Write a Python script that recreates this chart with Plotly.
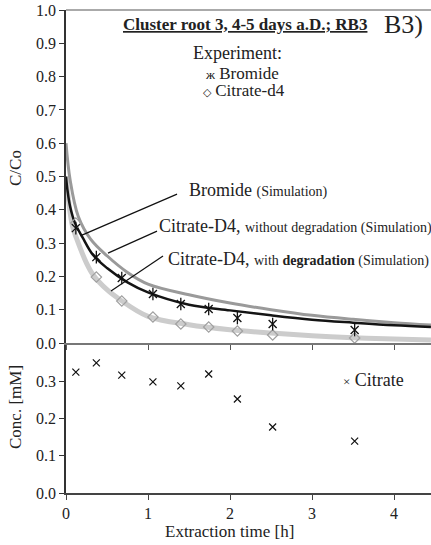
import plotly.graph_objects as go

# ---------------- data ----------------
t_exp = [0.12, 0.37, 0.68, 1.06, 1.40, 1.74, 2.09, 2.52, 3.52]
bromide_exp = [0.345, 0.258, 0.195, 0.147, 0.117, 0.102, 0.075, 0.057, 0.039]
citrate_d4_exp = [0.36, 0.198, 0.126, 0.078, 0.057, 0.048, 0.036, 0.024, 0.015]
citrate_conc = [0.324, 0.349, 0.316, 0.298, 0.287, 0.319, 0.252, 0.177, 0.139]

t_sim_br = [0, 0.05, 0.15, 0.3, 0.5, 0.75, 1.0, 1.5, 2.0, 2.5, 3.0, 3.5, 4.0, 4.45]
bromide_sim = [0.60, 0.49, 0.38, 0.312, 0.262, 0.212, 0.177, 0.145, 0.12, 0.10, 0.083, 0.071, 0.061, 0.054]

t_sim_nd = [0, 0.02, 0.05, 0.11, 0.2, 0.33, 0.5, 0.75, 1.0, 1.5, 2.0, 2.5, 3.0, 3.5, 4.0, 4.45]
citrate_nodeg_sim = [0.50, 0.455, 0.41, 0.36, 0.318, 0.264, 0.225, 0.182, 0.152, 0.115, 0.098, 0.083, 0.070, 0.061, 0.053, 0.048]

t_sim_dg = [0, 0.03, 0.08, 0.15, 0.25, 0.33, 0.5, 0.66, 1.0, 1.5, 2.0, 2.5, 3.0, 3.5, 4.0, 4.45]
citrate_deg_sim = [0.50, 0.43, 0.35, 0.30, 0.24, 0.205, 0.16, 0.13, 0.08, 0.055, 0.04, 0.03, 0.022, 0.016, 0.012, 0.009]

x_ticks = [0, 1, 2, 3, 4]
top_y_ticks = [0.0, 0.1, 0.2, 0.3, 0.4, 0.5, 0.6, 0.7, 0.8, 0.9, 1.0]
bot_y_ticks = [0.0, 0.1, 0.2, 0.3]

FONT = "Liberation Serif, Times New Roman, serif"
TXT = "#222222"

fig = go.Figure()

# simulation curves (top panel)
fig.add_trace(go.Scatter(x=t_sim_dg, y=citrate_deg_sim, mode="lines", xaxis="x2", yaxis="y2",
                         line=dict(color="#cccccc", width=5, shape="spline", smoothing=1.0)))
fig.add_trace(go.Scatter(x=t_sim_br, y=bromide_sim, mode="lines", xaxis="x2", yaxis="y2",
                         line=dict(color="#9a9a9a", width=3, shape="spline", smoothing=1.0)))
fig.add_trace(go.Scatter(x=t_sim_nd, y=citrate_nodeg_sim, mode="lines", xaxis="x2", yaxis="y2",
                         line=dict(color="#141414", width=2.5, shape="spline", smoothing=1.0)))

# experimental points
fig.add_trace(go.Scatter(x=t_exp, y=citrate_d4_exp, mode="markers", xaxis="x2", yaxis="y2",
                         marker=dict(symbol="diamond-open", size=8, color="#a0a0a0", line=dict(width=1.2))))
fig.add_trace(go.Scatter(x=t_exp, y=bromide_exp, mode="markers", xaxis="x2", yaxis="y2",
                         marker=dict(symbol="x-thin-open", size=8, color="#111111", line=dict(width=1.3))))
fig.add_trace(go.Scatter(x=t_exp, y=bromide_exp, mode="markers", xaxis="x2", yaxis="y2",
                         marker=dict(symbol="line-ns-open", size=9, color="#111111", line=dict(width=1.3))))

# bottom panel citrate
fig.add_trace(go.Scatter(x=t_exp, y=citrate_conc, mode="markers", xaxis="x", yaxis="y",
                         marker=dict(symbol="x-thin-open", size=7, color="#111111", line=dict(width=1.2))))

SPLIT = 150 / 483

axis_common = dict(showgrid=False, zeroline=False, ticks="outside", ticklen=5,
                   tickfont=dict(family=FONT, size=16, color=TXT))

fig.update_layout(
    width=431, height=545,
    margin=dict(l=66, r=0, t=10, b=52),
    paper_bgcolor="white", plot_bgcolor="white",
    showlegend=False,
    font=dict(family=FONT, color=TXT),
    xaxis=dict(domain=[0, 1], range=[0, 4.451], anchor="y", tickvals=x_ticks,
               showline=True, linecolor="#444444", linewidth=1.5, tickcolor="#444444", **axis_common),
    yaxis=dict(domain=[0, SPLIT], range=[0, 0.4021], anchor="x", tickvals=bot_y_ticks, tickformat=".1f",
               showline=True, linecolor="#333333", linewidth=1.8, tickcolor="#333333", **axis_common),
    xaxis2=dict(domain=[0, 1], range=[0, 4.451], anchor="y2", matches="x", tickvals=x_ticks,
                showticklabels=False, showline=True, linecolor="#777777", linewidth=2,
                tickcolor="#555555", **axis_common),
    yaxis2=dict(domain=[SPLIT, 1], range=[0, 1.0], anchor="x2", tickvals=top_y_ticks, tickformat=".1f",
                showline=True, linecolor="#333333", linewidth=1.8, tickcolor="#333333", **axis_common),
)

# top frame line
fig.add_shape(type="line", xref="paper", yref="paper", x0=0, x1=1, y0=1, y1=1,
              line=dict(color="#aaaaaa", width=2))

# leader lines
leaders = [
    (0.195, 0.324, 1.354, 0.447),
    (0.512, 0.270, 1.110, 0.336),
    (0.549, 0.156, 1.183, 0.261),
]
for x0, y0, x1, y1 in leaders:
    fig.add_shape(type="line", xref="x2", yref="y2", x0=x0, y0=y0, x1=x1, y1=y1,
                  line=dict(color="#111111", width=1.2))

def ann(text, x, y, xref, yref, size=18, xanchor="left", textangle=0, yanchor="middle"):
    fig.add_annotation(text=text, x=x, y=y, xref=xref, yref=yref, showarrow=False,
                       xanchor=xanchor, yanchor=yanchor, textangle=textangle,
                       font=dict(family=FONT, size=size, color=TXT))

S = "<span style='font-size:14px'>"
ann("Bromide " + S + "(Simulation)</span>", 1.476, 0.459, "x2", "y2")
ann("Citrate-D4, " + S + "without degradation (Simulation)</span>", 1.11, 0.351, "x2", "y2")
ann("Citrate-D4, " + S + "with <b>degradation</b> (Simulation)</span>", 1.22, 0.252, "x2", "y2")

ann("<b><u>Cluster root 3, 4-5 days a.D.; RB3</u></b>", 0.151, (493 - 24) / 483, "paper", "paper", size=17)
ann("B3)", 0.866, (493 - 24) / 483, "paper", "paper", size=26)
ann("Experiment:", (191 - 66) / 365, (493 - 53) / 483, "paper", "paper")
ann("<span style='font-size:13px'>ж</span> Bromide", (203 - 66) / 365, (493 - 73) / 483, "paper", "paper", size=17)
ann("<span style='font-size:11px'>◇</span> Citrate-d4", (201 - 66) / 365, (493 - 91) / 483, "paper", "paper", size=17)
ann("<span style='font-size:13px'>×</span> Citrate", (341 - 66) / 365, (493 - 380) / 483, "paper", "paper")

# axis titles
ann("C/Co", (15 - 66) / 365, (493 - 168) / 483, "paper", "paper", size=17, xanchor="center", textangle=-90)
ann("Conc. [mM]", (15 - 66) / 365, (493 - 407) / 483, "paper", "paper", size=17, xanchor="center", textangle=-90)
ann("Extraction time [h]", (229 - 66) / 365, (493 - 531) / 483, "paper", "paper", size=17, xanchor="center")

fig.write_html("out.html", config={"displayModeBar": False},
               post_script="document.body.style.margin='0';document.body.style.overflow='hidden';")
